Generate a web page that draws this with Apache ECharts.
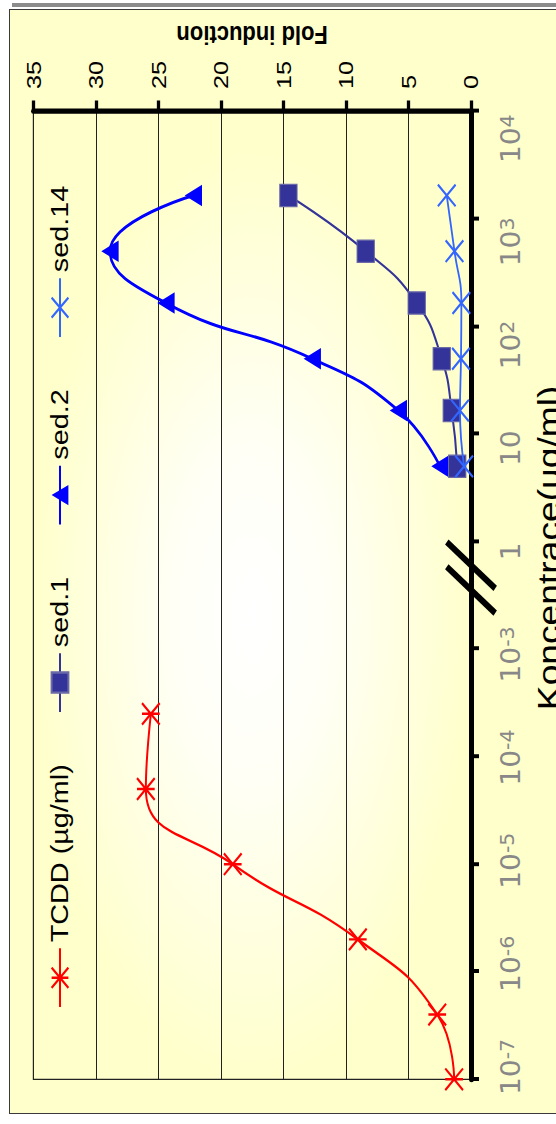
<!DOCTYPE html>
<html><head><meta charset="utf-8">
<script src="https://cdn.jsdelivr.net/npm/echarts@6/dist/echarts.min.js"></script>
<style>
html,body{margin:0;padding:0;background:#fff;width:556px;height:1124px;overflow:hidden;position:relative;}
#shadow{position:absolute;left:12px;top:3px;width:560px;height:4px;background:#8c8c8c;}
#frame{position:absolute;left:9px;top:9px;width:600px;height:1105px;border:1px solid #3a3a3a;background:#FFFFCC;box-sizing:border-box;}
#plotbg{position:absolute;left:33px;top:112px;width:438px;height:967px;background:radial-gradient(ellipse closest-side at 50% 52%, #FFFFFF 0%, #FFFFF6 35%, #FFFFCC 100%);}
#chart{position:absolute;left:0;top:0;width:936.67px;height:556px;transform-origin:0 0;transform:translate(0px,1124px) rotate(-90deg) scaleX(1.2);}
</style></head>
<body>
<div id="shadow"></div><div id="frame"></div><div id="plotbg"></div><div id="chart"></div>
<script>
// ---- data ----
const xTickExponents = [-7, -6, -5, -4, -3, 0, 1, 2, 3, 4];
const yMin = 0, yMax = 35, yStep = 5;
const seriesNames = ['TCDD (\u00b5g/ml)', 'sed.1', 'sed.2', 'sed.14'];
const tcddConc = [1e-7, 4e-7, 2e-6, 1e-5, 5e-5, 2.5e-4];
const tcddFold = [1.35, 2.7, 9.05, 19.05, 26.0, 25.6];
const sedConc = [5, 16.5, 50, 165, 500, 1650];
const sed1Fold = [1.1, 1.54, 2.34, 4.34, 8.42, 14.6];
const sed2Fold = [2.48, 5.81, 12.69, 24.39, 28.87, 22.2];
const sed14Fold = [0.55, 0.88, 0.8, 0.77, 1.32, 1.94];
const breakMarks = [4.55, 4.78];

// broken log scale: decades 1e-7..1e-3 then 1..1e4
function concToPos(c) { const l = Math.log10(c); return l <= -3 ? l + 7 : l + 5; }
function pairs(conc, vals) { return conc.map((c, i) => [concToPos(c), vals[i]]); }

const FONT = "'Liberation Sans', Arial, sans-serif";
const NARROW = "'Liberation Sans Narrow', 'Arial Narrow', 'DejaVu Sans Condensed', 'Liberation Sans', Arial, sans-serif";
const STAR = 'path://M0,0L10,10M10,0L0,10M5,0L5,10';
const CROSS = 'path://M0,0L10,10M10,0L0,10';

const chart = echarts.init(document.getElementById('chart'), null, { renderer: 'svg' });
chart.setOption({
  animation: false,
  backgroundColor: 'transparent',
  textStyle: { fontFamily: FONT },
  grid: { left: 37.25, right: 93.07, top: 33.3, bottom: 85, containLabel: false, outerBoundsMode: 'none',
          show: true, borderColor: '#222', borderWidth: 1, backgroundColor: 'transparent' },
  legend: {
    data: seriesNames, left: 96.4, top: 48, padding: 0, itemGap: 42.5,
    itemWidth: 49, itemHeight: 21,
    textStyle: { fontSize: 24, color: '#000', fontFamily: FONT, lineHeight: 24 }
  },
  xAxis: [
    {
      type: 'value', position: 'bottom', min: 0, max: xTickExponents.length - 1, interval: 1,
      axisLine: { show: true, onZero: false, lineStyle: { color: '#000', width: 5 } },
      axisTick: { show: true, inside: false, length: 8, lineStyle: { color: '#000', width: 3.3 } },
      axisLabel: { show: false },
      splitLine: { show: false },
      name: 'Koncentrace(ug/ml)', nameLocation: 'middle', nameGap: 63,
      nameTextStyle: { fontSize: 31, color: '#000', fontFamily: FONT, padding: [0, 0, 0, 79] }
    },
    {
      type: 'value', position: 'bottom', min: -0.1193, max: 9.266,
      axisLine: { show: false, onZero: false }, axisTick: { show: false }, splitLine: { show: false },
      axisLabel: {
        show: true, customValues: xTickExponents.map((e, i) => i), margin: 27,
        color: '#888', fontSize: 26, fontFamily: NARROW,
        formatter: function (v) {
          const e = xTickExponents[Math.round(v)];
          if (e === 0) return '{b|1}';
          if (e === 1) return '{b|10}';
          return '{b|10}{s|' + e + '}';
        },
        rich: {
          b: { fontSize: 26, color: '#888', fontFamily: NARROW },
          s: { fontSize: 19, color: '#888', fontFamily: NARROW, verticalAlign: 'top' }
        }
      }
    }
  ],
  yAxis: {
    type: 'value', position: 'right', min: yMin, max: yMax, interval: yStep,
    axisLine: { show: true, onZero: false, lineStyle: { color: '#000', width: 4.4 } },
    axisTick: { show: true, inside: false, length: 9, lineStyle: { color: '#000', width: 3.3 } },
    axisLabel: { show: true, margin: 18.5, fontSize: 21, color: '#000', fontFamily: FONT },
    splitLine: { show: true, lineStyle: { color: '#222', width: 1 } },
    name: 'Fold induction', nameLocation: 'middle', nameRotate: 90, nameGap: 41,
    nameTextStyle: { fontSize: 22, fontWeight: 'bold', color: '#000', fontFamily: FONT }
  },
  series: [
    {
      name: seriesNames[0], type: 'line', xAxisIndex: 0, data: pairs(tcddConc, tcddFold), smooth: 0.5,
      symbol: STAR, symbolSize: [18, 17.7], lineStyle: { color: '#FF0000', width: 2 },
      itemStyle: { color: 'none', borderColor: '#FF0000', borderWidth: 2 }, z: 3, emphasis: { disabled: true }
    },
    {
      name: seriesNames[1], type: 'line', xAxisIndex: 0, data: pairs(sedConc, sed1Fold), smooth: 0.5,
      symbol: 'rect', symbolSize: [18.6, 17.3], lineStyle: { color: '#333399', width: 2 },
      itemStyle: { color: '#333399', borderColor: '#6a6aa8', borderWidth: 1 }, z: 4, emphasis: { disabled: true }
    },
    {
      name: seriesNames[2], type: 'line', xAxisIndex: 0, data: pairs(sedConc, sed2Fold), smooth: 0.5,
      symbol: 'triangle', symbolSize: [18, 17.3], lineStyle: { color: '#0000FF', width: 2.5 },
      itemStyle: { color: '#0000FF' }, z: 3, emphasis: { disabled: true }
    },
    {
      name: seriesNames[3], type: 'line', xAxisIndex: 0, data: pairs(sedConc, sed14Fold), smooth: 0.5,
      symbol: CROSS, symbolSize: [18, 17.7], lineStyle: { color: '#3366FF', width: 1.8 },
      itemStyle: { color: 'none', borderColor: '#3366FF', borderWidth: 2 }, z: 5, emphasis: { disabled: true }
    },
    {
      type: 'custom', xAxisIndex: 0, yAxisIndex: 0, silent: true, z: 10,
      data: breakMarks.map(p => [p, 0]),
      renderItem: function (params, api) {
        const p = api.coord([api.value(0), api.value(1)]);
        return { type: 'line', shape: { x1: p[0] + 19.3, y1: p[1] - 24.2, x2: p[0] - 19.3, y2: p[1] + 24.2 }, style: { stroke: '#000', lineWidth: 5.5 } };
      }
    }
  ]
});
</script>
</body></html>
